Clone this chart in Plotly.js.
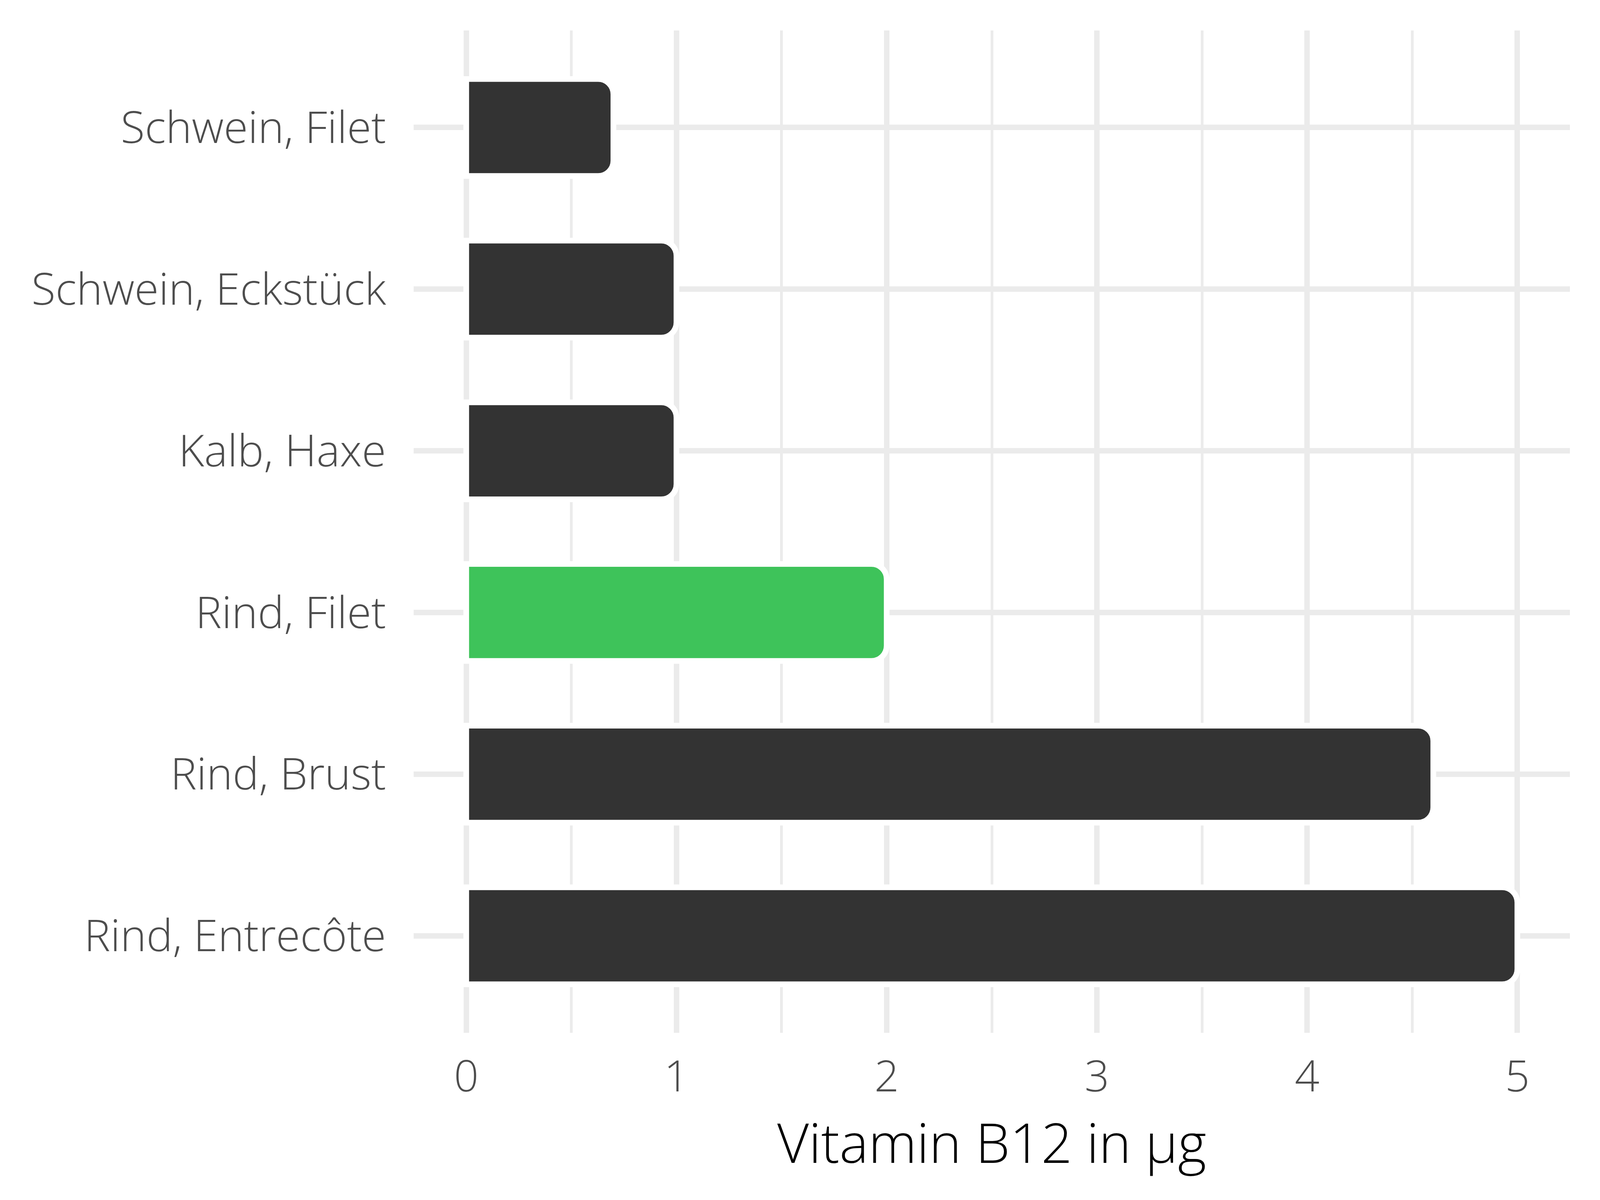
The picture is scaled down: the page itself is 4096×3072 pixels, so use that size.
<!DOCTYPE html>
<html>
<head>
<meta charset="utf-8">
<script src="https://cdn.plot.ly/plotly-3.0.1.min.js"></script>
<style>html,body{margin:0;padding:0;background:#fff;}#chart{width:4096px;height:3072px;}</style>
</head>
<body>
<div id="chart"></div>
<script>
// Data (bottom to top)
const categories = ["Rind, Entrecôte", "Rind, Brust", "Rind, Filet", "Kalb, Haxe", "Schwein, Eckstück", "Schwein, Filet"];
const values = [5.0, 4.6, 2.0, 1.0, 1.0, 0.7];
const barColors = ["#333333", "#333333", "#3EC35A", "#333333", "#333333", "#333333"];
const xTicks = [0, 1, 2, 3, 4, 5];
const xTitle = "Vitamin B12 in µg";

const FONT = "Open Sans";

const trace = {
  type: "bar",
  orientation: "h",
  y: categories,
  x: values,
  marker: {
    color: barColors,
    line: {color: "#FFFFFF", width: 14.5},
    cornerradius: 39
  },
  hoverinfo: "skip"
};

const layout = {
  width: 4096,
  height: 3072,
  paper_bgcolor: "#FFFFFF",
  plot_bgcolor: "#FFFFFF",
  margin: {l: 1059, r: 77, t: 78, b: 428, pad: 0},
  bargap: 0.4,
  showlegend: false,
  font: {family: FONT, color: "#4D4D4D"},
  xaxis: {
    range: [-0.25, 5.25],
    tickvals: xTicks,
    ticktext: xTicks.map(String),
    showgrid: true,
    gridcolor: "#EBEBEB",
    gridwidth: 14,
    zeroline: false,
    showline: false,
    ticks: "outside",
    ticklen: 16,
    tickcolor: "rgba(0,0,0,0)",
    tickfont: {family: FONT, size: 111, color: "#4D4D4D", weight: 300},
    minor: {dtick: 0.5, tick0: 0, showgrid: true, gridcolor: "#EBEBEB", gridwidth: 7, ticks: ""},
    title: {text: xTitle, font: {family: FONT, size: 140, color: "#000000", weight: 300}, standoff: 10},
    automargin: true,
    fixedrange: true
  },
  yaxis: {
    type: "category",
    categoryorder: "array",
    categoryarray: categories,
    range: [-0.6, 5.6],
    showgrid: true,
    gridcolor: "#EBEBEB",
    gridwidth: 14,
    zeroline: false,
    showline: false,
    ticks: "outside",
    ticklen: 47,
    tickcolor: "rgba(0,0,0,0)",
    tickfont: {family: FONT, size: 113, color: "#4D4D4D", weight: 300},
    automargin: false,
    fixedrange: true
  }
};

Plotly.newPlot("chart", [trace], layout, {displayModeBar: false, staticPlot: true});
</script>
</body>
</html>
